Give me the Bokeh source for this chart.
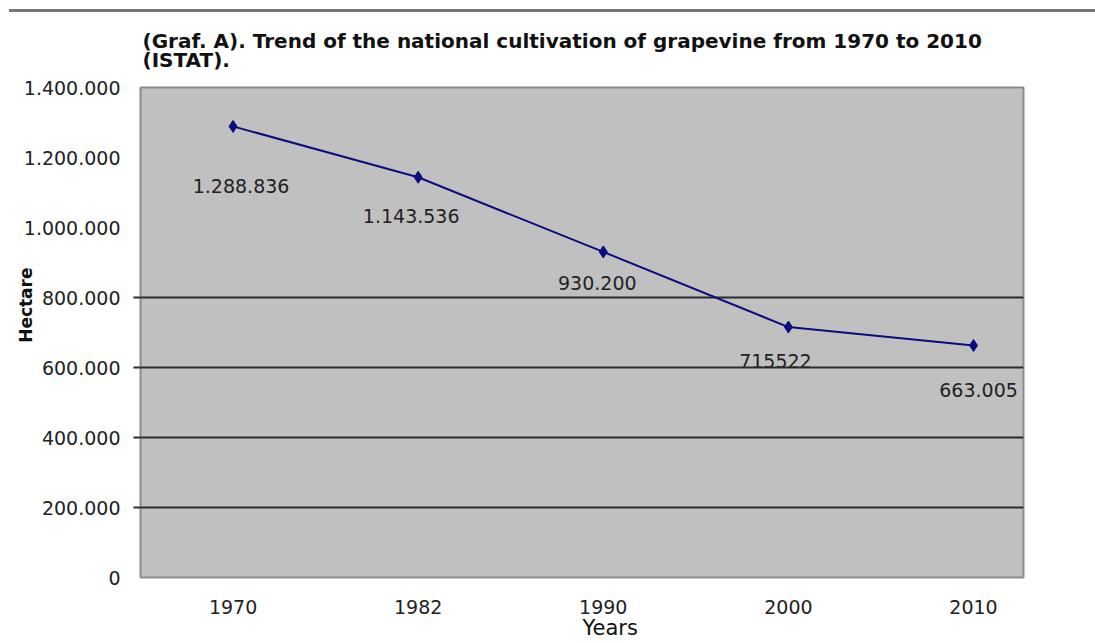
from bokeh.plotting import figure
from bokeh.models import (Range1d, LinearAxis, FixedTicker, Title, Div)
from bokeh.layouts import column
from bokeh.core.properties import value
from bokeh.embed import file_html
from bokeh.resources import INLINE

# ---- data ----
years = ["1970", "1982", "1990", "2000", "2010"]
hectares = [1288836, 1143536, 930200, 715522, 663005]
point_labels = ["1.288.836", "1.143.536", "930.200", "715522", "663.005"]
y_ticks = [0, 200000, 400000, 600000, 800000, 1000000, 1200000, 1400000]
y_tick_labels = ["0", "200.000", "400.000", "600.000", "800.000",
                 "1.000.000", "1.200.000", "1.400.000"]
grid_ticks = [200000, 400000, 600000, 800000]

title_text = ("(Graf. A). Trend of the national cultivation of grapevine from 1970 to 2010\n"
              "(ISTAT).")

# label placement (screen px, relative to each point)
label_dx = [8, -7, -6, -13, 5]
label_dy = [60, 39, 31, 34, 45]

xs = list(range(len(years)))

FONT = "DejaVu Sans"

p = figure(width=1095, height=630, output_backend="svg", toolbar_location=None,
           x_range=Range1d(-0.5, 4.27), y_range=Range1d(0, 1400000),
           x_axis_location=None, y_axis_location=None,
           min_border_left=140, min_border_right=72,
           min_border_top=75, min_border_bottom=65)

p.background_fill_color = "#c0c0c0"
p.border_fill_color = "white"
p.outline_line_color = "#8c8c8c"
p.outline_line_width = 2

# title (two lines)
title = Title(text=title_text, align="left", offset=2, standoff=30,
              text_font=FONT, text_font_size="20px", text_font_style="bold",
              text_color="#111111", text_line_height=0.8)
p.add_layout(title, "above")

# tick-only axis (nearest the frame)
tick_axis = LinearAxis(ticker=FixedTicker(ticks=grid_ticks))
tick_axis.axis_line_color = None
tick_axis.major_tick_out = 7
tick_axis.major_tick_in = 0
tick_axis.major_tick_line_color = "#2a2a2a"
tick_axis.major_tick_line_width = 2
tick_axis.minor_tick_line_color = None
tick_axis.major_label_text_font_size = "0px"
tick_axis.major_label_standoff = 0
tick_axis.major_label_overrides = {t: "" for t in grid_ticks}
p.add_layout(tick_axis, "left")

# labelled y axis
y_axis = LinearAxis(ticker=FixedTicker(ticks=y_ticks))
y_axis.axis_line_color = None
y_axis.major_tick_line_color = None
y_axis.major_tick_out = 0
y_axis.major_tick_in = 0
y_axis.minor_tick_line_color = None
y_axis.major_label_standoff = 13
y_axis.major_label_text_font = FONT
y_axis.major_label_text_font_size = "19px"
y_axis.major_label_text_color = "#222222"
y_axis.major_label_overrides = {t: l for t, l in zip(y_ticks, y_tick_labels)}
p.add_layout(y_axis, "left")

# y axis name
p.add_layout(Title(text="Hectare", align="right", offset=180, standoff=-31,
                   vertical_align="bottom",
                   text_font=FONT, text_font_size="17px", text_font_style="bold",
                   text_color="#111111"), "left")

# x axis
x_axis = LinearAxis(ticker=FixedTicker(ticks=xs))
x_axis.axis_line_color = None
x_axis.major_tick_line_color = None
x_axis.major_tick_out = 0
x_axis.major_tick_in = 0
x_axis.minor_tick_line_color = None
x_axis.major_label_standoff = 22
x_axis.major_label_text_font = FONT
x_axis.major_label_text_font_size = "19px"
x_axis.major_label_text_color = "#222222"
x_axis.major_label_overrides = {i: y for i, y in zip(xs, years)}
p.add_layout(x_axis, "below")

# x axis name
p.add_layout(Title(text="Years", align="left", offset=442, standoff=-2,
                   vertical_align="top",
                   text_font=FONT, text_font_size="21px", text_font_style="normal",
                   text_color="#111111"), "below")

# grid
p.xgrid.grid_line_color = None
p.ygrid.ticker = FixedTicker(ticks=grid_ticks)
p.ygrid.grid_line_color = "#2a2a2a"
p.ygrid.grid_line_width = 2

# data
p.line(xs, hectares, line_color="#0c0c80", line_width=2)
p.scatter(xs, hectares, marker="diamond", size=12, fill_color="#0c0c80",
          line_color="#0c0c80")
p.text(x=xs, y=hectares, text=point_labels, x_offset=label_dx, y_offset=label_dy,
       text_font=value(FONT), text_font_size="19px", text_color="#222222",
       text_align="center", text_baseline="middle", level="image")

top_rule = Div(text="", width=1086, height=3, margin=(9, 0, 0, 9),
               styles={"border-top": "3px solid #777777", "box-sizing": "border-box"})

layout = column(top_rule, p, spacing=0)

with open("out.html", "w") as f:
    f.write(file_html(layout, INLINE))
